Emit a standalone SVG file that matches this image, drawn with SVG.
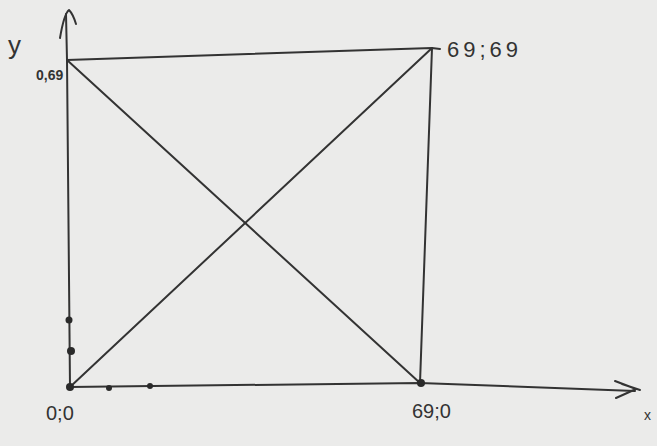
<svg xmlns="http://www.w3.org/2000/svg" width="657" height="446" viewBox="0 0 657 446">
<style>
.ln{stroke:#333;stroke-width:2;fill:none;stroke-linecap:round;stroke-linejoin:round}
.dot{fill:#2a2a2a}
.t{font-family:"Liberation Sans",Arial,sans-serif;fill:#333}
</style>
<rect width="657" height="446" fill="#ebebea"/>
<g id="connectors">
<path class="ln" d="M70,387 L67,60 L66,14"/>
<path class="ln" d="M60,38 Q64,14 69,10 Q73,14 76,24"/>
<path class="ln" d="M70,387 L420,383 L635,391"/>
<path class="ln" d="M615,381 L636,389 L616,398 M622,384 L640,390"/>
<path class="ln" d="M67,60 L432,48 L440,49"/>
<path class="ln" d="M432,48 L420,383"/>
<path class="ln" d="M67,60 L420,383"/>
<path class="ln" d="M70,387 L432,48"/>
</g>
<g id="node-origin"><circle class="dot" cx="70" cy="387" r="4"/><text class="t" x="46" y="420" font-size="20">0;0</text></g>
<g id="node-y-points">
<circle class="dot" cx="69" cy="320" r="3.5"/>
<circle class="dot" cx="71" cy="351" r="4"/>
</g>
<g id="node-x-points">
<circle class="dot" cx="109" cy="388" r="3"/>
<circle class="dot" cx="150" cy="386" r="3"/>
</g>
<g id="node-top-left"><text class="t" x="36" y="80" font-size="14" font-weight="bold">0,69</text></g>
<g id="node-top-right"><text class="t" x="447" y="57" font-size="22" letter-spacing="4">69;69</text></g>
<g id="node-bottom-right"><circle class="dot" cx="421" cy="383" r="4"/><text class="t" x="412" y="418" font-size="20">69;0</text></g>
<g id="label-y"><text class="t" x="8" y="54" font-size="26">y</text></g>
<g id="label-x"><text class="t" x="644" y="420" font-size="14">x</text></g>
</svg>
